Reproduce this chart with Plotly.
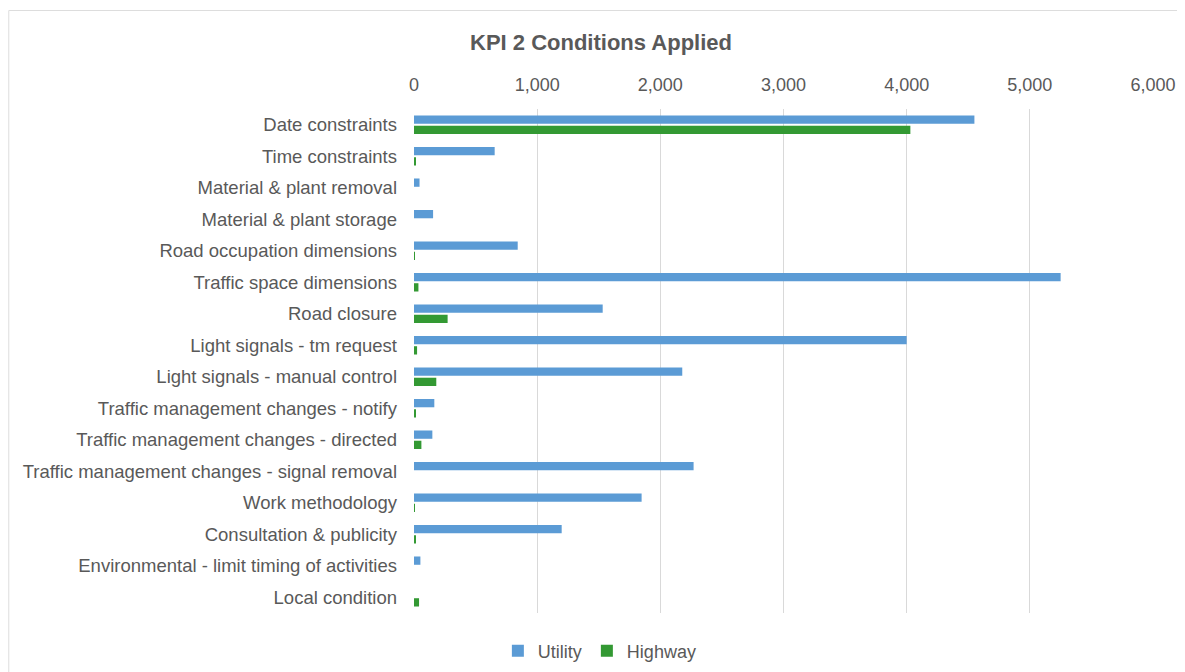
import plotly.graph_objects as go

categories = [
    "Date constraints",
    "Time constraints",
    "Material & plant removal",
    "Material & plant storage",
    "Road occupation dimensions",
    "Traffic space dimensions",
    "Road closure",
    "Light signals - tm request",
    "Light signals - manual control",
    "Traffic management changes - notify",
    "Traffic management changes - directed",
    "Traffic management changes - signal removal",
    "Work methodology",
    "Consultation & publicity",
    "Environmental - limit timing of activities",
    "Local condition",
]
utility = [4550, 655, 45, 155, 842, 5250, 1532, 4000, 2178, 165, 149, 2270, 1848, 1199, 52, 0]
highway = [4030, 10, 0, 0, 3, 36, 273, 25, 181, 10, 60, 0, 5, 16, 0, 41]
x_ticks = [0, 1000, 2000, 3000, 4000, 5000, 6000]
x_tick_labels = ["0", "1,000", "2,000", "3,000", "4,000", "5,000", "6,000"]

# page body has an 8px margin, so the figure is laid out 8px up/left
OFF = 8
W, H = 1185 - OFF, 672 - OFF
ML, MR, MT, MB = 414 - OFF, 1185 - 1153.5, 109 - OFF, 672 - 613
PW, PH = W - ML - MR, H - MT - MB
TXT = "#595959"
FONT = "Liberation Sans"


def px_x(x):
    return (x - OFF - ML) / PW


def px_y(y):
    return (H - MB - (y - OFF)) / PH


fig = go.Figure()
fig.add_trace(go.Bar(y=categories, x=utility, name="Utility", orientation="h",
                     marker=dict(color="#5B9BD5", line=dict(width=0))))
fig.add_trace(go.Bar(y=categories, x=highway, name="Highway", orientation="h",
                     marker=dict(color="#339933", line=dict(width=0))))

fig.update_layout(
    width=W, height=H,
    margin=dict(l=ML, r=MR, t=MT, b=MB, pad=0, autoexpand=False),
    paper_bgcolor="white", plot_bgcolor="white",
    barmode="group", bargap=0.35, bargroupgap=0.19,
    font=dict(family=FONT, color=TXT, size=18),
    title=dict(text="<b>KPI 2 Conditions Applied</b>", x=(601 - OFF) / W, xanchor="center",
               y=1 - (42 - OFF) / H, yanchor="middle",
               font=dict(family=FONT, size=22, color=TXT)),
    legend=dict(orientation="h", x=px_x(600), xanchor="center",
                y=px_y(651), yanchor="middle",
                font=dict(family=FONT, size=18, color=TXT),
                itemwidth=30, traceorder="normal"),
    xaxis=dict(side="top", range=[0, 6000], tickvals=x_ticks, ticktext=x_tick_labels,
               showgrid=True, gridcolor="#D9D9D9", gridwidth=1, zeroline=False,
               showline=False, ticks="", ticklabelstandoff=13, automargin=False,
               tickfont=dict(family=FONT, size=18, color=TXT), fixedrange=True),
    yaxis=dict(autorange="reversed", showgrid=False, zeroline=False, showline=False,
               ticks="", ticklabelstandoff=16, automargin=False,
               tickfont=dict(family=FONT, size=18.5, color=TXT), fixedrange=True),
    shapes=[dict(type="rect", xref="paper", yref="paper",
                 x0=px_x(OFF + 0.5), x1=px_x(1185 + 20),
                 y0=px_y(672 + 20), y1=px_y(10.5),
                 line=dict(color="#DDDDDD", width=1), fillcolor="rgba(0,0,0,0)", layer="below")],
)

fig.write_html("out.html")
